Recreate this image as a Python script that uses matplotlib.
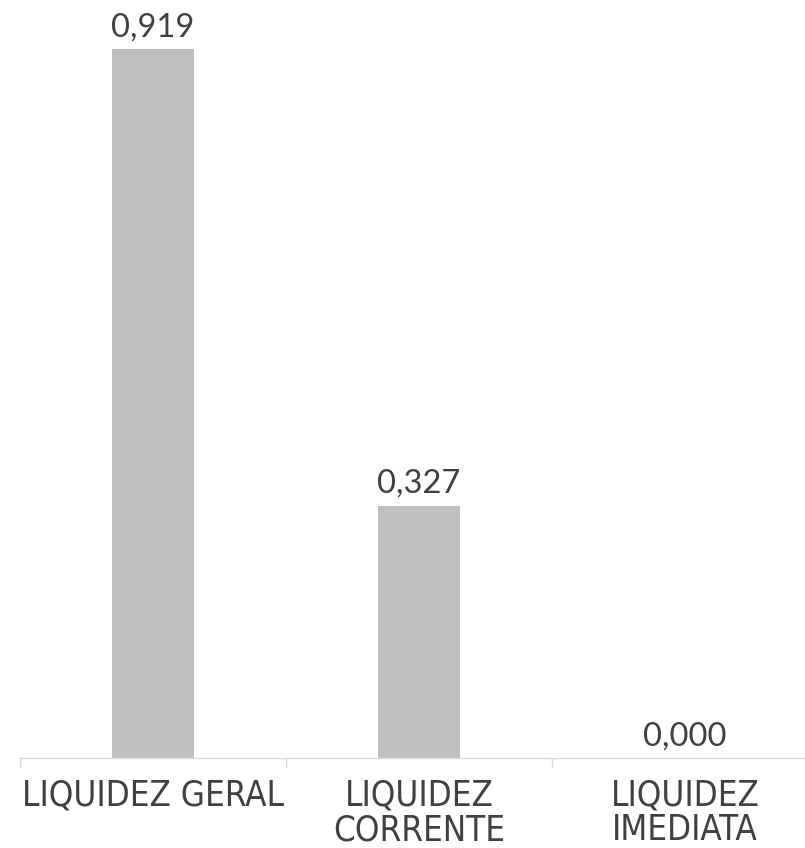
import matplotlib
matplotlib.use('Agg')
import matplotlib.pyplot as plt

categorias = ['LIQUIDEZ GERAL', 'LIQUIDEZ\nCORRENTE', 'LIQUIDEZ\nIMEDIATA']
valores = [0.919, 0.327, 0.000]

cinza_barra = '#BFBFBF'
cinza_texto = '#404040'
cinza_eixo = '#D9D9D9'

fig = plt.figure(figsize=(8.05, 8.48), dpi=100)
# eixo um pouco além da borda direita, como no original
ax = fig.add_axes([20/805, 90/848, 798/805, 758/848])

pos = list(range(len(categorias)))
barras = ax.bar(pos, valores, width=0.312, color=cinza_barra)

rotulos = [f'{v:.3f}'.replace('.', ',') for v in valores]
ax.bar_label(barras, labels=rotulos, padding=5, fontsize=23.5,
             color=cinza_texto, family='Lato')

ax.set_xlim(-0.5, 2.5)
ax.set_ylim(0, 0.9825)
ax.set_yticks([])
ax.set_xticks(pos)
ax.set_xticklabels(categorias, fontsize=25, color=cinza_texto,
                   family='DejaVu Sans', fontstretch='condensed',
                   linespacing=1.02, va='top')
ax.tick_params(axis='x', which='major', length=0, pad=15)
ax.set_xticks([-0.5, 0.5, 1.5, 2.5], minor=True)
ax.tick_params(axis='x', which='minor', length=7, color=cinza_eixo, width=1)

for lado in ['top', 'right', 'left']:
    ax.spines[lado].set_visible(False)
ax.spines['bottom'].set_color(cinza_eixo)
ax.spines['bottom'].set_linewidth(1)

fig.savefig('out.png', dpi=100)
